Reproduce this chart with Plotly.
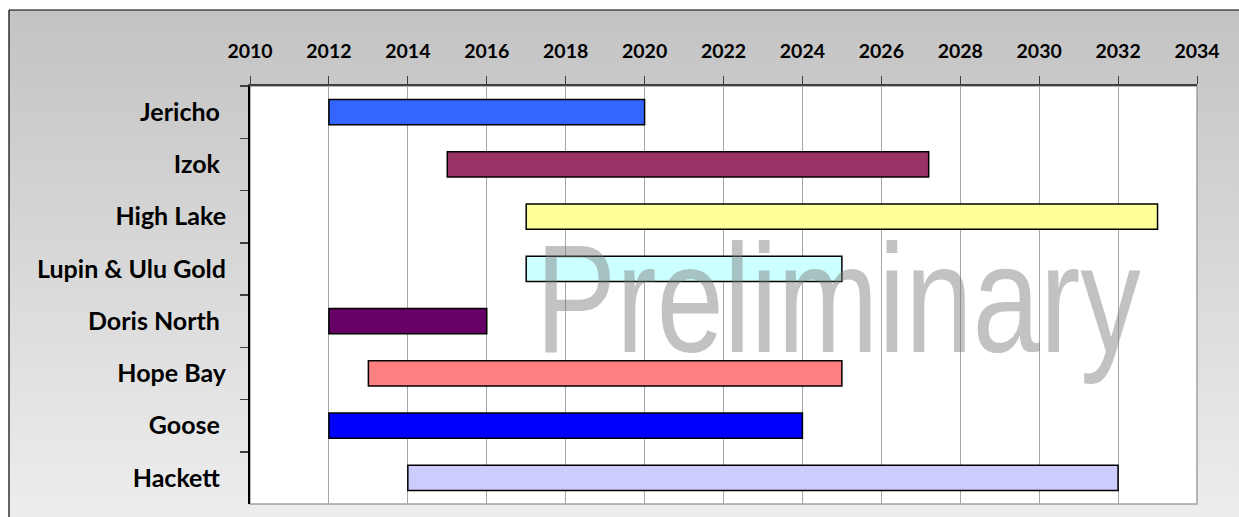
import base64
import plotly.graph_objects as go

# ---- data ----
projects = ["Jericho\u00a0", "Izok\u00a0", "High Lake", "Lupin & Ulu Gold",
            "Doris North\u00a0", "Hope Bay", "Goose\u00a0", "Hackett\u00a0"]
start_year = [2012, 2015, 2017, 2017, 2012, 2013, 2012, 2014]
end_year = [2020, 2027.2, 2033, 2025, 2016, 2025, 2024, 2032]
bar_colors = ["#3366FF", "#993366", "#FFFF99", "#CCFFFF",
              "#660066", "#FF8080", "#0000FF", "#CCCCFF"]
x_tick_years = list(range(2010, 2035, 2))
watermark = "Preliminary"

durations = [e - s for s, e in zip(start_year, end_year)]

W, H = 1239, 517
ML, MR, MT, MB = 250, 42, 86, 13
PW, PH = W - ML - MR, H - MT - MB
FONT = "Lato, 'Open Sans', sans-serif"

fig = go.Figure()
fig.add_trace(go.Bar(
    y=projects, x=durations, base=start_year, orientation="h",
    width=0.48,
    marker=dict(color=bar_colors, line=dict(color="#000000", width=1.5)),
    hoverinfo="skip", showlegend=False,
))

# gradient chart-area background (as an svg image)
svg = ('<svg xmlns="http://www.w3.org/2000/svg" width="100" height="100" '
       'preserveAspectRatio="none"><defs><linearGradient id="g" x1="0" y1="0" '
       'x2="0" y2="1"><stop offset="0" stop-color="#C3C3C3"/><stop offset="1" '
       'stop-color="#EFEFEF"/></linearGradient></defs>'
       '<rect width="100" height="100" fill="url(#g)"/></svg>')
src = "data:image/svg+xml;base64," + base64.b64encode(svg.encode()).decode()

# chart-area frame position in paper coordinates (relative to plot area)
fx0 = (9 - ML) / PW
fy1 = 1 + (MT - 10) / PH
fx1 = (W - ML) / PW + 0.05
fy0 = -(MB) / PH - 0.05

fig.update_layout(
    width=W, height=H,
    margin=dict(l=ML, r=MR, t=MT, b=MB),
    paper_bgcolor="#FFFFFF", plot_bgcolor="#FFFFFF",
    images=[dict(source=src, xref="paper", yref="paper", x=fx0, y=fy1,
                 sizex=fx1 - fx0, sizey=fy1 - fy0, sizing="stretch", layer="below",
                 xanchor="left", yanchor="top")],
    shapes=[
        dict(type="rect", xref="x domain", yref="y domain", x0=0, x1=1, y0=0, y1=1,
             fillcolor="#FFFFFF", line=dict(color="#A0A0A0", width=1.5), layer="below"),
        dict(type="line", xref="paper", yref="paper", x0=fx0, x1=fx1, y0=fy1, y1=fy1,
             line=dict(color="#000000", width=1.2)),
        dict(type="line", xref="paper", yref="paper", x0=fx0, x1=fx0, y0=fy0, y1=fy1,
             line=dict(color="#000000", width=1.2)),
    ],
    xaxis=dict(
        side="top", range=[2010, 2034], tickvals=x_tick_years,
        ticktext=[str(v) for v in x_tick_years],
        showgrid=True, gridcolor="#A6A6A6", gridwidth=1,
        ticks="outside", ticklen=8, tickcolor="#404040", tickwidth=1,
        showline=True, linecolor="#404040", linewidth=2,
        ticklabelstandoff=10,
        tickfont=dict(family=FONT, size=19.5, color="#000000", weight="bold"),
        zeroline=False, fixedrange=True,
    ),
    yaxis=dict(
        type="category", categoryorder="array", categoryarray=projects,
        autorange="reversed",
        ticks="outside", tickson="boundaries", ticklen=8, tickcolor="#404040",
        tickwidth=1.5,
        showline=True, linecolor="#000000", linewidth=2,
        showgrid=False, ticklabelstandoff=17,
        tickfont=dict(family=FONT, size=25, color="#000000", weight="bold"),
        fixedrange=True,
    ),
    annotations=[dict(
        text=watermark, x=2024.9, y=3.58, xref="x", yref="y",
        showarrow=False, xanchor="center", yanchor="middle",
        font=dict(family="'Liberation Sans', Arial, sans-serif",
                  size=154, color="rgba(120,120,120,0.45)"),
    )],
    bargap=0.52,
)

post = """
document.body.style.margin = '0';
var gd = document.getElementById('{plot_id}');
gd.querySelectorAll('.annotation-text').forEach(function(t) {
    t.style.transformBox = 'fill-box';
    t.style.transformOrigin = 'center';
    t.style.transform = 'scaleX(0.786)';
});
"""

fig.write_html("out.html", post_script=post,
               config={"displayModeBar": False, "staticPlot": True})
